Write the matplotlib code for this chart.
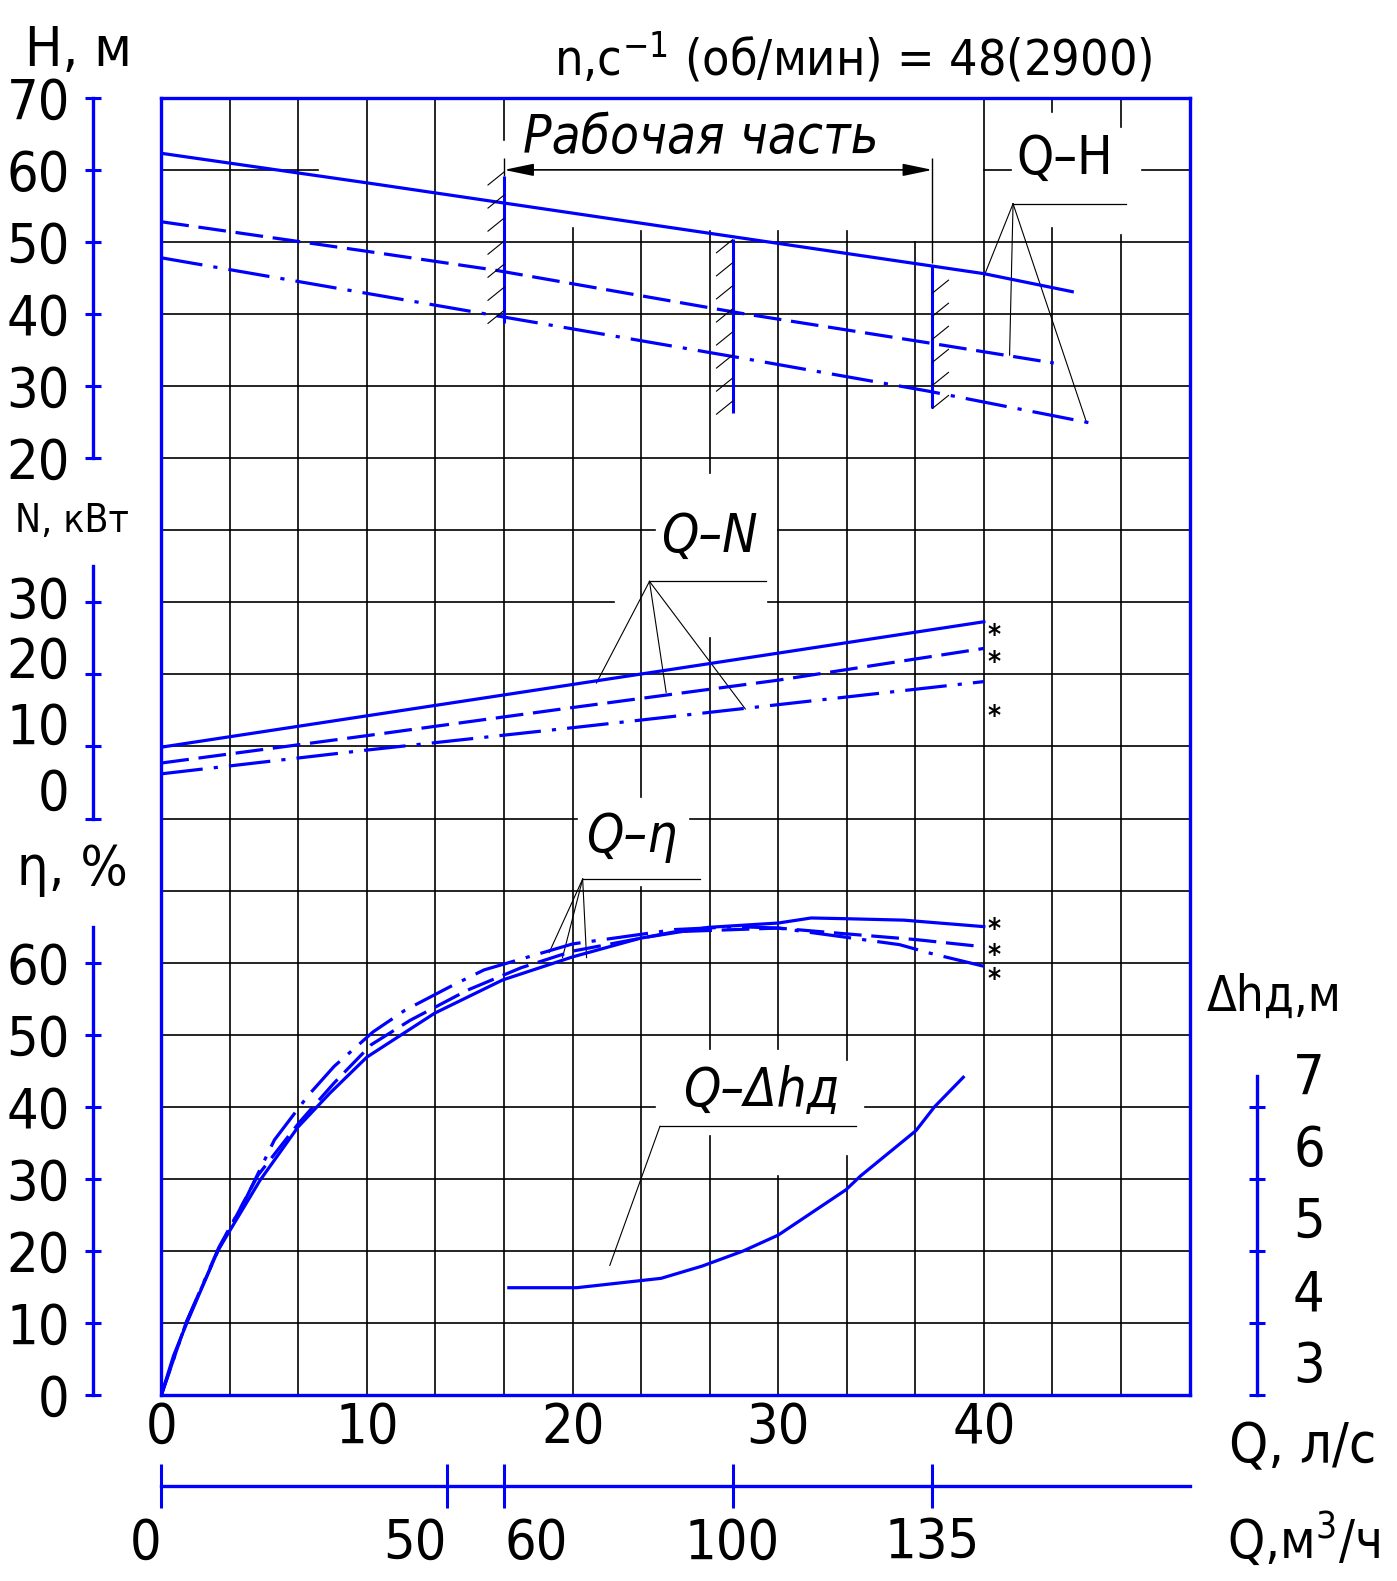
import numpy as np
import matplotlib
matplotlib.use("Agg")
import matplotlib.pyplot as plt
from matplotlib import font_manager
from matplotlib.transforms import offset_copy

# ---- pump curves (Q in l/s) ----
q_h_solid = [0, 10, 20, 30, 40, 44.3]
h_solid = [62.3, 58.2, 54.0, 49.8, 45.6, 43.1]
q_h_dash = [0, 10, 16.2, 20, 28.2, 37.3, 43.4]
h_dash = [52.8, 48.7, 46.1, 44.2, 40.1, 36.0, 33.2]
q_h_dashdot = [0, 15.4, 28.2, 37.3, 45.5]
h_dashdot = [47.8, 40.2, 33.9, 29.3, 24.7]

q_n = [0, 10, 20, 30, 40]
n_solid = [9.9, 14.25, 18.6, 22.95, 27.3]
n_dash = [7.7, 11.5, 15.4, 19.2, 23.6]
n_dashdot = [6.2, 9.5, 12.6, 15.8, 19.0]

q_eta_solid = [0, 0.6, 1.24, 2.76, 4.8, 6.65, 8.2, 10.0, 13.3, 16.6, 20.0,
               23.3, 26.6, 30.0, 31.6, 33.3, 36.1, 40.0]
eta_solid = [0, 5.5, 10.0, 20.1, 29.8, 37.2, 41.9, 46.9, 53.0, 57.6, 60.8,
             63.4, 64.9, 65.5, 66.2, 66.1, 65.9, 65.0]
q_eta_dash = [0, 1.2, 2.8, 4.7, 6.7, 8.4, 10.2, 12.1, 14.9, 17.5, 20, 25,
              30, 33.3, 36.7, 40]
eta_dash = [0, 10, 20.3, 30.5, 37.8, 43.3, 48.6, 52.0, 56.2, 59.3, 61.6,
            64.3, 64.8, 64.0, 63.2, 62.2]
q_eta_dashdot = [0, 1.2, 2.8, 4.15, 5.5, 7.15, 8.4, 10.3, 11.85, 14.2, 15.7,
                 20, 25, 28, 30, 33.1, 35.9, 37.4, 40]
eta_dashdot = [0, 10, 20.5, 27.5, 35.4, 41.6, 45.6, 50.4, 53.4, 56.9, 59.0,
               62.6, 64.6, 65.0, 64.8, 63.6, 62.5, 61.3, 59.5]

q_dh = [16.9, 20.2, 24.3, 26.3, 28.3, 30, 33.3, 34.0, 36.7, 37.6, 39.0]
dh = [4.49, 4.49, 4.62, 4.79, 5.0, 5.22, 5.85, 6.04, 6.67, 7.0, 7.41]

# working range (m3/h) and the head span of its marker lines
work_m3h = [60, 100, 135]
work_h_top = [59.1, 50.4, 46.8]
work_h_bot = [38.8, 26.2, 27.0]

q_ticks = [0, 10, 20, 30, 40]
m3h_ticks = [0, 50, 60, 100, 135]
h_ticks = [20, 30, 40, 50, 60, 70]
n_ticks = [0, 10, 20, 30]
eta_ticks = [0, 10, 20, 30, 40, 50, 60]
dh_ticks = [3, 4, 5, 6, 7]

BLUE = "#0000ff"
W, H = 1397, 1581

# pick a narrow face if one is installed, otherwise a light sans
fonts = font_manager.fontManager.ttflist
narrow = [f for f in fonts if f.style == "normal" and (
    "Narrow" in f.name or "Condensed" in f.name
    or str(f.stretch) in ("condensed", "semi-condensed", "extra-condensed"))]
narrow.sort(key=lambda f: ("Sans" not in f.name, f.name))
if narrow:
    FONT, STRETCH, WEIGHT, K = narrow[0].name, narrow[0].stretch, "normal", 1.0
else:
    FONT = "Roboto" if any(f.name == "Roboto" for f in fonts) else "Liberation Sans"
    STRETCH, WEIGHT, K = "normal", "light", 0.92
plt.rcParams["font.family"] = [FONT, "DejaVu Sans"]
plt.rcParams["font.stretch"] = STRETCH
plt.rcParams["font.weight"] = WEIGHT
plt.rcParams["mathtext.fontset"] = "custom"
plt.rcParams["mathtext.rm"] = FONT
plt.rcParams["mathtext.it"] = FONT + ":italic"
plt.rcParams["mathtext.default"] = "regular"
plt.rcParams["lines.scale_dashes"] = False

NUM = 40 * K
LBL = 38 * K
DASH = (0, (20, 7))
DASHDOT = (0, (30, 8, 3, 8))


def px(x, y):
    return x / W, 1 - y / H


def keep(lo, hi, gaps):
    segs, start = [], lo
    for a, b in sorted(gaps):
        if a > start:
            segs.append((start, a))
        start = max(start, b)
    if start < hi:
        segs.append((start, hi))
    return segs


fig = plt.figure(figsize=(W / 100, H / 100), dpi=100)
left, right = 161.3, 1189.5
top, bottom = 97.8, 1395.1
rect = [left / W, 1 - bottom / H, (right - left) / W, (bottom - top) / H]

# main axes: x = Q (l/s), y = drawing rows (0 at top, 18 at bottom)
ax = fig.add_axes(rect)
ax.set_xlim(0, 50)
ax.set_ylim(18, 0)
ax.set_yticks([])
ax.set_xticks(q_ticks)
ax.set_xticklabels([str(v) for v in q_ticks])
ax.tick_params(axis="x", length=0, pad=4, labelsize=NUM)
for s in ax.spines.values():
    s.set_color(BLUE)
    s.set_linewidth(2.4)

# grid with the breaks left around the labels
col_gaps = {
    5: [(0.59, 1.83)],
    6: [(0, 1.8)],
    7: [(0, 1.85), (9.7, 10.95)],
    8: [(0, 1.85), (5.2, 7.5), (13.2, 14.4)],
    9: [(0, 1.85), (13.2, 14.96)],
    10: [(0, 1.85), (13.35, 14.68)],
    11: [(0, 2.0)],
    13: [(0.2, 1.8)],
    14: [(0.4, 1.9)],
}
row_gaps = {
    1: [(7.6, 40.0), (41.3, 47.7)],
    6: [(24.0, 30.0)],
    7: [(22.0, 29.5)],
    10: [(20.2, 25.7)],
    14: [(24.0, 34.2)],
}
for k in range(1, 15):
    q = k * 10 / 3
    for r0, r1 in keep(0, 18, col_gaps.get(k, [])):
        ax.plot([q, q], [r0, r1], color="black", lw=1.2, zorder=1)
for r in range(1, 18):
    for q0, q1 in keep(0, 50, row_gaps.get(r, [])):
        ax.plot([q0, q1], [r, r], color="black", lw=1.2, zorder=1)


def overlay(lo, hi):
    a = fig.add_axes(rect, sharex=ax)
    a.set_ylim(lo, hi)
    a.patch.set_visible(False)
    for s in a.spines.values():
        s.set_visible(False)
    a.xaxis.set_visible(False)
    return a


def scale(a, side, pos, lo, hi, ticks, labels=True):
    sp = a.spines[side]
    sp.set_visible(True)
    sp.set_position(("axes", pos))
    sp.set_bounds(lo, hi)
    sp.set_color(BLUE)
    sp.set_linewidth(2.4)
    a.set_yticks(ticks)
    a.tick_params(axis="y", left=(side == "left"), right=(side == "right"),
                  labelleft=(side == "left" and labels),
                  labelright=(side == "right" and labels),
                  direction="inout", length=11, width=2.2, color=BLUE,
                  pad=11, labelsize=NUM)


axH = overlay(-110, 70)
axN = overlay(-80, 100)
axE = overlay(0, 180)
axD = overlay(3, 21)
scale(axH, "left", -0.0667, 20, 70, h_ticks)
scale(axN, "left", -0.0667, 0, 35, n_ticks, labels=False)
scale(axE, "left", -0.0667, 0, 65, eta_ticks)
scale(axD, "right", 1.0656, 3, 7.43, dh_ticks, labels=False)

# N labels sit a little above their ticks on the sheet
for v, up in zip(n_ticks, [24, 18, 12, 0]):
    tr = offset_copy(axN.get_yaxis_transform(), fig=fig, x=-23, y=up, units="dots")
    axN.text(-0.0667, v, str(v), transform=tr, ha="right", va="center",
             fontsize=NUM, clip_on=False)
dh_tr = offset_copy(axD.get_yaxis_transform(), fig=fig, x=26, y=20, units="points")
for v in dh_ticks:
    axD.text(1.0656, v, str(v), transform=dh_tr, ha="left", va="center",
             fontsize=NUM, clip_on=False)

lw = 2.3
axH.plot(q_h_solid, h_solid, color=BLUE, lw=lw)
axH.plot(q_h_dash, h_dash, color=BLUE, lw=lw, ls=DASH)
axH.plot(q_h_dashdot, h_dashdot, color=BLUE, lw=lw, ls=DASHDOT)
axN.plot(q_n, n_solid, color=BLUE, lw=lw)
axN.plot(q_n, n_dash, color=BLUE, lw=lw, ls=DASH)
axN.plot(q_n, n_dashdot, color=BLUE, lw=lw, ls=DASHDOT)
axE.plot(q_eta_solid, eta_solid, color=BLUE, lw=lw)
axE.plot(q_eta_dash, eta_dash, color=BLUE, lw=lw, ls=DASH)
axE.plot(q_eta_dashdot, eta_dashdot, color=BLUE, lw=lw, ls=DASHDOT)
axD.plot(q_dh, dh, color=BLUE, lw=lw)

# working range markers with hatching
work_q = np.array(work_m3h) / 3.6
axH.vlines(work_q, work_h_bot, work_h_top, color=BLUE, lw=2.2)
for q, hb, ht, side in zip(work_q, work_h_bot, work_h_top, [-1, -1, 1]):
    for hh in np.arange(hb + 0.8, ht, 3.2):
        q0 = q if side > 0 else q - 0.78
        axH.plot([q0, q0 + 0.78], [hh - 0.9, hh + 0.9], color="black", lw=0.8)

# dimension line "Рабочая часть"
ax.vlines(work_q[[0, 2]], 0.84, [1.09, 2.29], color="black", lw=1.0)
ax.annotate("", xy=(work_q[0], 1), xytext=(work_q[2], 1),
            arrowprops=dict(arrowstyle="<|-|>,head_length=1.2,head_width=0.25",
                            mutation_scale=15, color="black", lw=1.2,
                            shrinkA=0, shrinkB=0))
ax.text(17.6, 0.77, "Рабочая часть", fontsize=LBL, style="italic",
        ha="left", va="baseline")

# curve labels with leaders
ax.text(43.93, 0.85, "Q–H", fontsize=LBL, ha="center", va="center")
ax.plot([41.42, 46.9], [1.47, 1.47], color="black", lw=0.9)
for tq, tr in [(40, 2.48), (41.25, 3.57), (45.0, 4.51)]:
    ax.plot([41.42, tq], [1.47, tr], color="black", lw=0.8)

ax.text(26.67, 6.09, "Q–N", fontsize=LBL, style="italic", ha="center", va="center")
ax.plot([23.74, 29.43], [6.71, 6.71], color="black", lw=0.9)
for tq, tr in [(21.16, 8.12), (24.55, 8.25), (28.4, 8.48)]:
    ax.plot([23.74, tq], [6.71, tr], color="black", lw=0.8)

ax.text(22.88, 10.26, "Q–η", fontsize=LBL, style="italic", ha="center", va="center")
ax.plot([20.49, 26.2], [10.84, 10.84], color="black", lw=0.9)
for tq, tr in [(18.86, 11.86), (19.51, 11.93), (20.68, 11.93)]:
    ax.plot([20.49, tq], [10.84, tr], color="black", lw=0.8)

ax.text(29.2, 13.78, "Q–Δhд", fontsize=LBL, style="italic", ha="center", va="center")
ax.plot([24.25, 33.8], [14.27, 14.27], color="black", lw=0.9)
ax.plot([24.25, 21.81], [14.27, 16.2], color="black", lw=0.8)

# asterisks at the curve ends
for a, vals, dys in [(axN, [n_solid[-1], n_dash[-1], n_dashdot[-1]], [14, 15, 35]),
                     (axE, [eta_solid[-1], eta_dash[-1], eta_dashdot[-1]], [3, 9, 14])]:
    for v, dy in zip(vals, dys):
        tr = offset_copy(a.transData, fig=fig, x=10, y=-dy, units="dots")
        a.text(40, v, "*", transform=tr, fontsize=20, fontweight="bold",
               ha="center", va="center")

# second flow scale in m3/h
sec = ax.secondary_xaxis(-0.0699, functions=(lambda q: q * 3.6, lambda m: m / 3.6))
sec.set_xticks(m3h_ticks)
sec.set_xticklabels([str(v) for v in m3h_ticks])
sec.spines["bottom"].set_color(BLUE)
sec.spines["bottom"].set_linewidth(2.4)
sec.tick_params(direction="inout", length=32, width=2.2, color=BLUE, pad=6,
                labelsize=NUM)
for lbl, ha in zip(sec.get_xticklabels(), ["right", "right", "left", "center", "center"]):
    lbl.set_ha(ha)

# axis captions
fig.text(*px(25, 65.5), "H, м", fontsize=NUM, ha="left", va="baseline")
fig.text(*px(554, 75.6), "n,c$^{-1}$ (об/мин) = 48(2900)", fontsize=36 * K,
         ha="left", va="baseline")
fig.text(*px(15, 532), "N, кВт", fontsize=28 * K, ha="left", va="baseline")
fig.text(*px(17, 885), "η, %", fontsize=NUM, ha="left", va="baseline")
fig.text(*px(1207, 1011), "Δhд,м", fontsize=35 * K, ha="left", va="baseline")
fig.text(*px(1376, 1462), "Q, л/с", fontsize=NUM, ha="right", va="baseline")
fig.text(*px(1380, 1558), "Q,м$^3$/ч", fontsize=38 * K, ha="right", va="baseline")

fig.savefig("out.png", dpi=100, facecolor="white")
